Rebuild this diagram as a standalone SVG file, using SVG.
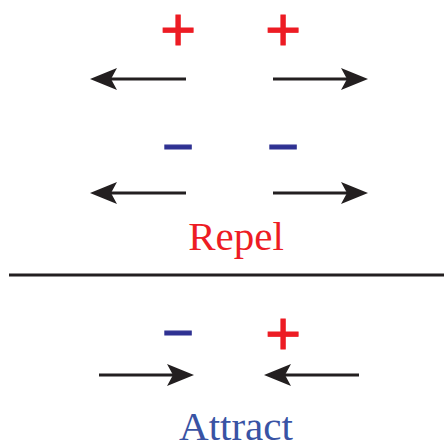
<svg xmlns="http://www.w3.org/2000/svg" width="444" height="442" viewBox="0 0 444 442">
<style>
.plus{font-family:"Liberation Sans",Arial,sans-serif;font-size:62px;fill:#ED1C24;stroke:#ED1C24;stroke-width:0.8;text-anchor:middle}
.minus{font-family:"Liberation Sans",Arial,sans-serif;font-size:54px;fill:#2E3192;stroke:#2E3192;stroke-width:1.2;text-anchor:middle}
.lbl{font-family:"Liberation Serif","Times New Roman",serif;font-size:41px;text-anchor:middle}
.arr{stroke:#231F20;stroke-width:3;fill:none;marker-end:url(#ah)}
</style>
<defs>
<marker id="ah" markerUnits="userSpaceOnUse" markerWidth="28" markerHeight="24" refX="6" refY="11" orient="auto" viewBox="0 0 28 22">
<path d="M27,11 L0,0 L6,11 L0,22 Z" fill="#231F20"/>
</marker>
</defs>
<g id="charges">
<g id="repel-plus-left"><text class="plus" x="178" y="50">+</text></g>
<g id="repel-plus-right"><text class="plus" x="283" y="50">+</text></g>
<g id="repel-minus-left"><text class="minus" x="178" y="165">−</text></g>
<g id="repel-minus-right"><text class="minus" x="283" y="165">−</text></g>
<g id="attract-minus"><text class="minus" x="178" y="351">−</text></g>
<g id="attract-plus"><text class="plus" x="283" y="354">+</text></g>
</g>
<g id="labels">
<g id="repel-label"><text class="lbl" x="236" y="250" fill="#ED1C24">Repel</text></g>
<g id="attract-label"><text class="lbl" x="236" y="440" fill="#3953A4">Attract</text></g>
</g>
<g id="divider"><line x1="9" y1="275" x2="444" y2="275" stroke="#231F20" stroke-width="3"/></g>
<g id="connectors">
<line class="arr" x1="186" y1="79" x2="111" y2="79"/>
<line class="arr" x1="273" y1="79" x2="347" y2="79"/>
<line class="arr" x1="186" y1="193" x2="111" y2="193"/>
<line class="arr" x1="273" y1="193" x2="347" y2="193"/>
<line class="arr" x1="99" y1="375" x2="173" y2="375"/>
<line class="arr" x1="359" y1="375" x2="285" y2="375"/>
</g>
</svg>
